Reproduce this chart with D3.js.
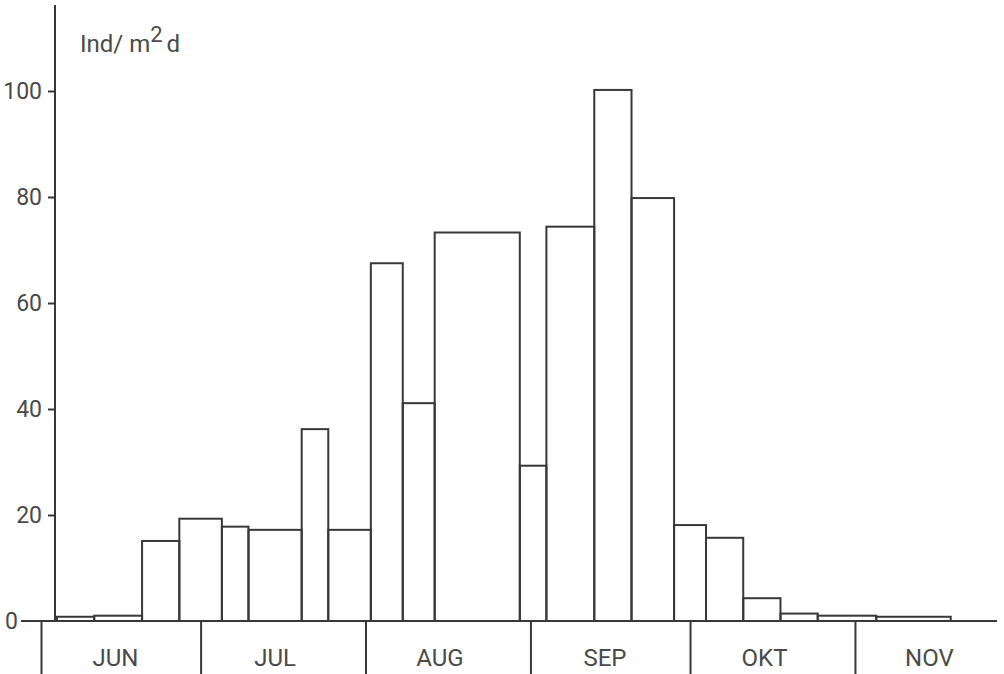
<!DOCTYPE html>
<html>
<head>
<meta charset="utf-8">
<script src="https://cdn.jsdelivr.net/npm/d3@7"></script>
<style>
  html, body { margin: 0; padding: 0; background: #ffffff; }
  text { font-family: Roboto, "Liberation Sans", sans-serif; fill: #4a4a4a; }
</style>
</head>
<body>
<div id="chart"></div>
<script>
var svgWidth = 1004;
var svgHeight = 674;

// bin edges (sampling periods) and catch per period
var binEdges = ["06-04", "06-11", "06-20", "06-27", "07-05", "07-10", "07-20", "07-25",
  "08-02", "08-08", "08-14", "08-30", "09-04", "09-13", "09-20", "09-28",
  "10-04", "10-11", "10-18", "10-25", "11-05", "11-19"];
var binValues = [0.8, 1.0, 15.1, 19.3, 17.8, 17.2, 36.2, 17.2, 67.5, 41.1, 73.3,
  29.3, 74.4, 100.2, 79.8, 18.1, 15.7, 4.3, 1.4, 1.0, 0.8];

var monthStarts = ["06-01", "07-01", "08-01", "09-01", "10-01", "11-01"];
var monthLabels = ["JUN", "JUL", "AUG", "SEP", "OKT", "NOV"];
var yTicks = [0, 20, 40, 60, 80, 100];

var parseDay = function(s) { return new Date(Date.UTC(1979, +s.slice(0, 2) - 1, +s.slice(3))); };

var baseY = 621;
var axisX = 55;

var xScale = d3.scaleUtc()
  .domain([parseDay("06-01"), parseDay("12-01")])
  .range([41, 41 + 183 * 5.32]);

var yScale = d3.scaleLinear()
  .domain([0, 100])
  .range([baseY, 91]);

var svg = d3.select("#chart")
  .append("svg")
  .attr("width", svgWidth)
  .attr("height", svgHeight);

var ink = "#383838";

// bars
var bins = binValues.map(function(v, i) {
  return { x0: parseDay(binEdges[i]), x1: parseDay(binEdges[i + 1]), value: v };
});

svg.append("g")
  .selectAll("rect")
  .data(bins)
  .enter()
  .append("rect")
  .attr("x", d => xScale(d.x0))
  .attr("y", d => yScale(d.value))
  .attr("width", d => xScale(d.x1) - xScale(d.x0))
  .attr("height", d => baseY - yScale(d.value))
  .attr("fill", "none")
  .attr("stroke", ink)
  .attr("stroke-width", 2);

// y axis
var leftAxis = d3.axisLeft(yScale)
  .tickValues(yTicks)
  .tickSize(7)
  .tickPadding(6)
  .tickFormat(d3.format("d"));

var yAxisG = svg.append("g")
  .attr("transform", `translate(${axisX}, 0)`)
  .call(leftAxis);

yAxisG.select(".domain").remove();
yAxisG.selectAll(".tick line").attr("stroke", ink).attr("stroke-width", 2);
yAxisG.selectAll(".tick text")
  .attr("font-size", 23)
  .attr("fill", "#4a4a4a")
  .attr("font-family", "Roboto, sans-serif");
yAxisG.selectAll(".tick").filter(d => d === 0)
  .select("text").attr("x", -37);
yAxisG.selectAll(".tick").filter(d => d === 0)
  .select("line").remove();

svg.append("line")
  .attr("x1", axisX).attr("x2", axisX)
  .attr("y1", 5).attr("y2", baseY)
  .attr("stroke", ink).attr("stroke-width", 2);

// x axis: baseline, month separators, month names
svg.append("line")
  .attr("x1", 21).attr("x2", 997)
  .attr("y1", baseY).attr("y2", baseY)
  .attr("stroke", ink).attr("stroke-width", 2);

var bottomAxis = d3.axisBottom(xScale)
  .tickValues(monthStarts.map(parseDay))
  .tickSize(55)
  .tickFormat("");

var xAxisG = svg.append("g")
  .attr("transform", `translate(0, ${baseY})`)
  .call(bottomAxis);
xAxisG.select(".domain").remove();
xAxisG.selectAll(".tick line").attr("stroke", ink).attr("stroke-width", 2);

svg.append("g")
  .selectAll("text")
  .data(monthLabels)
  .enter()
  .append("text")
  .attr("x", (d, i) => xScale(parseDay(monthStarts[i].slice(0, 3) + "15")))
  .attr("y", 666)
  .attr("text-anchor", "middle")
  .attr("font-size", 24)
  .text(d => d);

// unit label
var unit = svg.append("text")
  .attr("x", 80)
  .attr("y", 52)
  .attr("font-size", 24);
unit.append("tspan").text("Ind/ m");
unit.append("tspan").attr("dy", -10).attr("font-size", 22).text("2");
unit.append("tspan").attr("dy", 10).attr("dx", 4).text("d");
</script>
</body>
</html>
